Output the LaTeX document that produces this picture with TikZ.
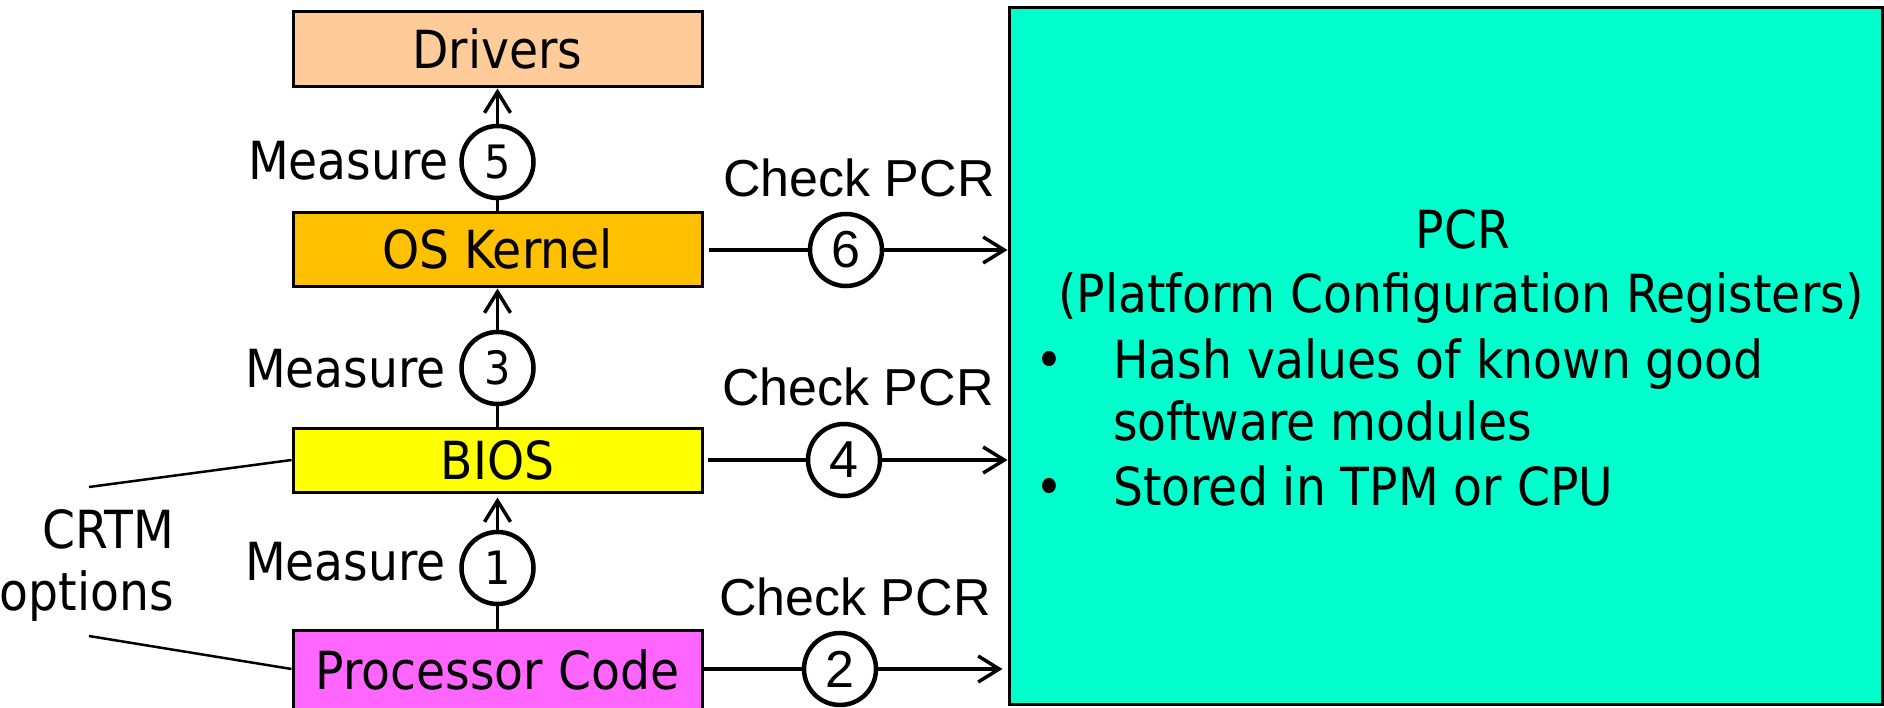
\documentclass[tikz,border=0pt]{standalone}
\usepackage{fontspec}
\setmainfont{DejaVu Sans Condensed}
\newfontfamily\arialf{Liberation Sans}
\usetikzlibrary{arrows.meta}
\definecolor{peach}{RGB}{255,204,153}
\definecolor{kernelc}{RGB}{255,192,0}
\definecolor{biosc}{RGB}{255,255,0}
\definecolor{procc}{RGB}{255,102,255}
\definecolor{pcrc}{RGB}{0,255,204}
\begin{document}
\begin{tikzpicture}[x=1pt,y=-1pt,
  layerbox/.style={draw=black,line width=3pt,minimum width=409pt,inner sep=0pt,
    text height=38pt,text depth=0pt,font=\fontsize{52.5}{60}\selectfont},
  numc/.style={circle,draw=black,line width=4.5pt,fill=white,minimum size=72pt,inner sep=0pt},
  vnum/.style={numc,font=\fontsize{46}{50}\selectfont},
  hnum/.style={numc,font=\arialf\fontsize{52}{56}\selectfont},
  conn/.style={line width=3.5pt},
  arr/.style={conn,-{Straight Barb[length=21pt,width=26pt,line width=3.5pt]}},
  lbl/.style={font=\fontsize{52.5}{62}\selectfont,inner sep=0pt},
  chk/.style={font=\arialf\fontsize{52}{60}\selectfont,inner sep=0pt,anchor=base},
  callout/.style={line width=2.5pt}]
\useasboundingbox (0,0) rectangle (1884,708);

% layer boxes
\node[layerbox,fill=peach,minimum height=75pt] (drv) at (497.5,49.5) {Drivers};
\node[layerbox,fill=kernelc,minimum height=74pt] (krn) at (497.5,250) {OS Kernel};
\node[layerbox,fill=biosc,minimum height=64pt] (bios) at (497.5,460) {BIOS};
\node[layerbox,fill=procc,minimum height=80pt] (proc) at (497.5,670) {Processor Code};

% PCR box
\node[draw=black,line width=3pt,fill=pcrc,minimum width=873pt,minimum height=696pt,inner sep=0pt] (pcr) at (1445.5,356) {};
\node[lbl,anchor=base] (pcrt) at (1463,249) {PCR};
\node[lbl,anchor=base] (pcrf) at (1461,313) {(Platform Configuration Registers)};
\node[lbl,anchor=base] (b1) at (1049,378) {•};
\node[lbl,anchor=base west] (t1) at (1113,378) {Hash values of known good};
\node[lbl,anchor=base west] (t2) at (1113,440) {software modules};
\node[lbl,anchor=base] (b2) at (1049,505) {•};
\node[lbl,anchor=base west] (t3) at (1113,505) {Stored in TPM or CPU};

% measure circles
\node[vnum] (c5) at (497.5,162) {5};
\node[vnum] (c3) at (497.5,368) {3};
\node[vnum] (c1) at (497.5,568) {1};
\node[lbl,anchor=base east] (m5) at (449,180) {Measure};
\node[lbl,anchor=base east] (m3) at (446,388) {Measure};
\node[lbl,anchor=base east] (m1) at (446,580) {Measure};

\draw[conn] (krn.north) -- (c5);
\draw[arr] (c5) -- (drv.south);
\draw[conn] (bios.north) -- (c3);
\draw[arr] (c3) -- (krn.south);
\draw[conn] (proc.north) -- (c1);
\draw[arr,shorten >=4pt] (c1) -- (bios.south);

% check circles
\node[hnum] (c6) at (846,250) {6};
\node[hnum] (c4) at (844,460) {4};
\node[hnum] (c2) at (840,669) {2};
\node[chk] (k6) at (859,197) {Check PCR};
\node[chk] (k4) at (858,405) {Check PCR};
\node[chk] (k2) at (855,615) {Check PCR};

\draw[conn,shorten <=5pt] (krn.east) -- (c6);
\draw[arr] (c6) -- (c6 -| pcr.west);
\draw[conn,shorten <=4pt] (bios.east) -- (c4);
\draw[arr] (c4) -- (c4 -| pcr.west);
\draw[conn] (proc.east |- c2) -- (c2);
\draw[arr,shorten >=5pt] (c2) -- (c2 -| pcr.west);

% CRTM options
\node[lbl,anchor=base east] (crtm) at (174,548) {CRTM};
\node[lbl,anchor=base east] (opts) at (174,610) {options};
\coordinate (l1) at (89,487);
\coordinate (l2) at (89,636);
\draw[callout] (l1) -- (bios.west);
\draw[callout] (l2) -- (proc.west |- c2);
\end{tikzpicture}
\end{document}
